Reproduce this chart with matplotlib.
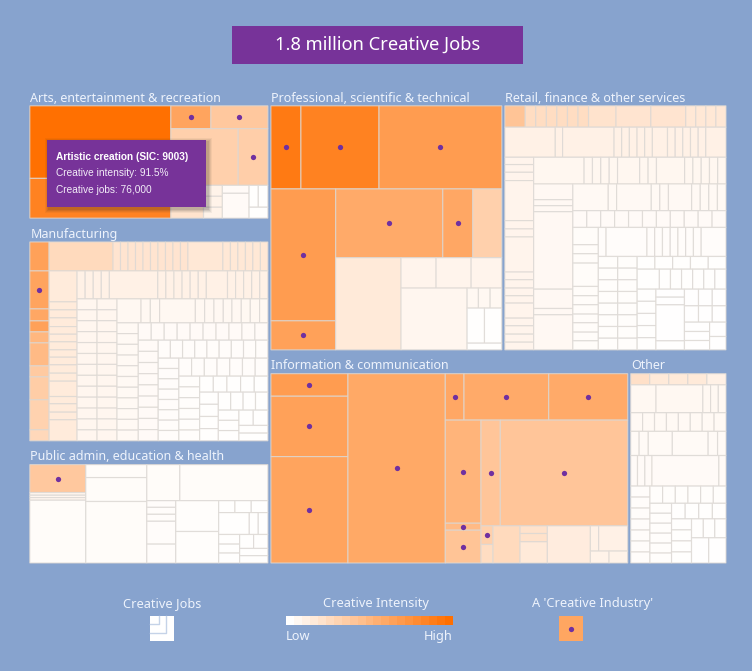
import matplotlib
matplotlib.use("Agg")
import matplotlib.pyplot as plt
from matplotlib.colors import LinearSegmentedColormap
from matplotlib.patches import Rectangle


def row(size, direction, sizes, intensity):
    # a strip of cells that share one shade
    return (size, direction, [(s, intensity) for s in sizes])


# Tree nodes: leaf = (job share, intensity %[, 1 if creative industry])
#             group = (job share, "h" or "v", children)
SECTOR_NAMES = [
    "Arts, entertainment & recreation",
    "Manufacturing",
    "Public admin, education & health",
    "Professional, scientific & technical",
    "Retail, finance & other services",
    "Information & communication",
    "Other",
]
SECTOR_JOBS = [175.5, 287, 157.5, 335, 321, 410, 112]  # thousands

ARTS = (113, "h", [
    (141, "v", [(73, 91.5), (40, 80)]),
    (97, "v", [
        (23, "h", [(40, 58, 1), (57, 35, 1)]),
        (57, "h", [(68, 30), (30, 31, 1)]),
        (33, "h", [
            (33, 18),
            row(19, "v", [11, 11, 11], 8),
            row(27, "v", [8, 25], 3),
            (19, "v", [row(22, "h", [9.3, 9.7], 1), (11, 1)]),
        ]),
    ]),
])

MANUFACTURING = (199, "h", [
    (19.3, "v", [
        (29, 60), (38, 58, 1), (12, 56), (11, 60), (11, 46), (23, 44),
        (11, 34), (23, 32), (30, 29), (11, 25),
    ]),
    (219, "v", [
        (29, "h", [
            (64, 24),
            *[(7.5, 17)] * 10,
            (35, 15),
            *[(7.5, 15)] * 6,
        ]),
        (170, "h", [
            row(28, "v", [31, 8, 8, 8.7, 7.6, 7.7, 8, 7.3, 7.7, 8.3, 8, 15.4, 7.3, 8.3, 7.7, 21], 13),
            (191, "v", [
                row(28, "h", [8, 8, 8, 8, 48, 8, 8, 8, 8, 8, 8, 21, 8, 8, 8, 8, 8], 9),
                (142, "h", [
                    row(20, "v", [11] * 13, 6),
                    row(20, "v", [11] * 13, 6),
                    (151, "v", [
                        row(24, "h", [24, 9.3, 9.3, 35.7, 9.3, 9.3, 9.3, 8.7, 9.3, 9, 9.3, 8.3], 5),
                        (118, "h", [
                            row(21.3, "v", [10.8] * 11, 4),
                            (130, "v", [
                                row(17.3, "h", [13] * 10, 3),
                                (100.7, "h", [
                                    row(20, "v", [11.2] * 9, 3),
                                    (110, "v", [
                                        row(18, "h", [12.2] * 9, 2),
                                        (82.7, "h", [
                                            row(20.7, "v", [10.3] * 8, 2),
                                            (89, "v", [
                                                row(18, "h", [12.7] * 7, 2),
                                                (64.7, "h", [
                                                    row(20.7, "v", [10.8] * 6, 1.5),
                                                    (68, "v", [
                                                        row(16, "h", [13.7] * 5, 1),
                                                        (48.7, "h", [
                                                            row(18.7, "v", [12.2] * 4, 1),
                                                            (49.7, "v", [
                                                                row(18, "h", [12.4] * 4, 1),
                                                                (30.7, "h", [
                                                                    row(20.7, "v", [10.2] * 3, 1),
                                                                    (29, "v", [
                                                                        row(15.3, "h", [14.3, 14.7], 1),
                                                                        (7.7, 1), (7.7, 1),
                                                                    ]),
                                                                ]),
                                                            ]),
                                                        ]),
                                                    ]),
                                                ]),
                                            ]),
                                        ]),
                                    ]),
                                ]),
                            ]),
                        ]),
                    ]),
                ]),
            ]),
        ]),
    ]),
])

PUBLIC_ADMIN = (99, "h", [
    (56, "v", [(28, 35, 1), (2.7, 6), (2.4, 6), (2.6, 6), (63, 2.5)]),
    row(61, "v", [13, 24, 61.7], 2.5),
    (121, "v", [
        row(36.3, "h", [33, 88], 2.5),
        (62.7, "h", [
            row(29, "v", [6.7, 7, 7, 23, 19], 2),
            row(43, "v", [31, 31.7], 1.5),
            (49.3, "v", [
                row(12, "h", [16.3, 16.3, 16.7], 1),
                row(22, "h", [30.7, 9, 9.7], 1),
                (28.7, "h", [
                    row(21, "v", [9.7, 9, 10], 1),
                    (28.3, "v", [
                        row(14, "h", [14, 14.3], 1),
                        (7.3, 1), (7.3, 1),
                    ]),
                ]),
            ]),
        ]),
    ]),
])

PROFESSIONAL = (243.7, "v", [
    (83, "h", [(30, 85, 1), (78, 80, 1), (122.7, 63, 1)]),
    (160.7, "h", [
        (64.7, "v", [(131.7, 63, 1), (29, 60, 1)]),
        (166, "v", [
            (68.7, "h", [(107, 54, 1), (30, 56, 1), (29, 30)]),
            (92, "h", [
                (65.3, 14),
                (100.7, "v", [
                    row(30.3, "h", [35, 35, 30.7], 7),
                    (61.7, "h", [
                        (66, 6),
                        (34.7, "v", [
                            row(20, "h", [11.3, 11.7, 11.7], 5),
                            row(35, "h", [17.3, 17.3], 1),
                            (6.7, 1),
                        ]),
                    ]),
                ]),
            ]),
        ]),
    ]),
])

RETAIL = (243.7, "v", [
    (21.3, "h", [
        (20.3, 38),
        *[(10.5, 22)] * 6,
        (27.3, 18), (34.7, 17), (34.7, 17),
        *[(10, 15)] * 4,
    ]),
    row(30, "h", [50, 7.3, 51, 7.6, 7.6, 7.6, 7.6, 7.6, 15, 7.6, 7.6, 7.6, 7.6, 7.6, 20], 9),
    (192, "h", [
        row(28.7, "v", [7.3, 7.7, 8.3, 40, 8.3, 8, 35, 7.7, 8.3, 7.7, 7.3, 15, 7.7, 8.3, 8, 7.7], 7),
        (191.3, "v", [
            row(26.7, "h", [50, 8.3, 8.3, 8.3, 8.3, 22, 8.3, 8.3, 28, 8.2, 8.2, 8.2, 8.2, 8.2], 5.5),
            (165.7, "h", [
                row(39, "v", [15.7, 6, 6, 77.3, 19.3, 6.3, 35], 4.5),
                (152.3, "v", [
                    row(26.7, "h", [35, 8.3, 34.3, 8.5, 8.5, 23, 8.5, 8.5, 8.5, 8.5], 4),
                    row(16.7, "h", [13.85] * 11, 3),
                    (122.3, "h", [
                        row(25.3, "v", [17.3, 9, 9.3, 23.3, 9.3, 9, 9.3, 8.7, 9.3, 8.7, 9], 2.5),
                        (127, "v", [
                            row(29, "h", [7.7, 40.7, 7.7, 7.7, 7.7, 7.7, 7.7, 7.7, 7.7, 24.7], 1.8),
                            (93.3, "h", [
                                row(19.3, "v", [11.67] * 8, 1.5),
                                row(19.3, "v", [11.67] * 8, 1.5),
                                (88.3, "v", [
                                    row(12.7, "h", [17.7] * 5, 1),
                                    row(20, "h", [22, 11, 11, 11, 11, 11, 11], 1),
                                    (60.7, "h", [
                                        row(18.7, "v", [12.1] * 5, 1),
                                        row(28.3, "v", [8, 7.7, 36, 9], 0.5),
                                        (41.3, "v", [
                                            (33, "v", [
                                                row(16.7, "h", [14, 13.7, 13.7], 0.5),
                                                row(16.3, "h", [14, 13.7, 13.7], 0.5),
                                            ]),
                                            (27.7, "h", [
                                                row(25, "v", [9.3, 9, 9.3], 0.5),
                                                row(16.3, "v", [14.3, 13.3], 0.5),
                                            ]),
                                        ]),
                                    ]),
                                ]),
                            ]),
                        ]),
                    ]),
                ]),
            ]),
        ]),
    ]),
])

INFORMATION = (190.3, "h", [
    (77, "v", [(22.7, 63, 1), (60.7, 60, 1), (107, 58, 1)]),
    (97.3, 55, 1),
    (182.3, "v", [
        (46.7, "h", [(18.7, 56, 1), (84.7, 54, 1), (79, 54, 1)]),
        (143.7, "h", [
            (35.7, "v", [(103.7, 48, 1), (7, 44, 1), (33, 38, 1)]),
            (146.7, "v", [
                (106.3, "h", [(19.3, 37, 1), (127.3, 37, 1)]),
                (37.3, "h", [
                    (12, "v", [(18.7, 30, 1), (18.7, 22)]),
                    (27, 24),
                    (27.3, "v", [(7.7, 19), (8.3, 19), (21.3, 14)]),
                    (43, 12),
                    (37.3, "v", [
                        row(25.3, "h", [8.3, 29], 9),
                        row(12, "h", [18.7, 18.7], 8),
                    ]),
                ]),
            ]),
        ]),
    ]),
])

OTHER = (190.3, "v", [
    (11.3, "h", [(19, 20), (19, 14), (19, 14), (19, 14), (19, 9)]),
    row(28, "h", [25, 46.3, 7.6, 7.6, 7.6], 5),
    row(18.7, "h", [11.75] * 8, 4),
    row(24.3, "h", [8.3, 9, 23.7, 35.3, 9.3, 8.3], 3.5),
    row(30.7, "h", [6.7, 7.3, 7, 66, 7], 3),
    (77.3, "h", [
        row(19, "v", [11] * 7, 2),
        (75, "v", [
            row(17.3, "h", [12.5] * 6, 1.5),
            (60, "h", [
                row(21.3, "v", [10] * 6, 1.5),
                (53.7, "v", [
                    row(15.7, "h", [13.5] * 4, 1),
                    (44.3, "h", [
                        row(19.7, "v", [11] * 4, 1),
                        (34, "v", [
                            row(19, "h", [11.6, 11.3, 11], 1),
                            row(25.3, "h", [17, 17], 0.5),
                        ]),
                    ]),
                ]),
            ]),
        ]),
    ]),
])

SECTOR_TREES = [ARTS, MANUFACTURING, PUBLIC_ADMIN, PROFESSIONAL, RETAIL, INFORMATION, OTHER]

TITLE = "1.8 million Creative Jobs"
TOOLTIP_LINES = ["Artistic creation (SIC: 9003)", "Creative intensity: 91.5%", "Creative jobs: 76,000"]
LEGEND_TITLES = ["Creative Jobs", "Creative Intensity", "A 'Creative Industry'"]
LEGEND_STEPS = [0, 5, 9, 14, 18, 23, 28, 32, 37, 41, 46, 51, 55, 60, 64, 69, 74, 78, 83, 87, 92]

BACKGROUND = "#87a3ce"
PURPLE = "#773399"
DOT = "#7030a0"
TEXT = "#eef3fc"
EDGE = (0.87, 0.85, 0.83, 0.75)
FONT = "Noto Sans"

cmap = LinearSegmentedColormap.from_list("intensity", ["#ffffff", "#ff6f00"])


def shade(intensity):
    return cmap(intensity / 92)


def draw_node(ax, node, x0, y0, x1, y1):
    if not isinstance(node[1], str):
        ax.add_patch(Rectangle((x0, y0), x1 - x0, y1 - y0, facecolor=shade(node[1]),
                               edgecolor=EDGE, linewidth=0.85, snap=False, zorder=2))
        if len(node) > 2:
            ax.plot((x0 + x1) / 2, (y0 + y1) / 2, "o", color=DOT, markersize=3.8,
                    markeredgewidth=0, zorder=3)
        return
    total = sum(child[0] for child in node[2])
    pos = x0 if node[1] == "h" else y0
    for child in node[2]:
        if node[1] == "h":
            step = (x1 - x0) * child[0] / total
            draw_node(ax, child, pos, y0, pos + step, y1)
        else:
            step = (y1 - y0) * child[0] / total
            draw_node(ax, child, x0, pos, x1, pos + step)
        pos += step


def sector_frames(x0, y0, x1, y1):
    # left column of three, right block of two rows with two sectors each
    jobs = SECTOR_JOBS
    total = sum(jobs)
    split_x = x0 + (x1 - x0) * sum(jobs[:3]) / total
    frames = []
    y = y0
    for value in jobs[:3]:
        h = (y1 - y0) * value / sum(jobs[:3])
        frames.append((x0, y, split_x, y + h))
        y += h
    right = sum(jobs[3:])
    split_y = y0 + (y1 - y0) * (jobs[3] + jobs[4]) / right
    mid_top = split_x + (x1 - split_x) * jobs[3] / (jobs[3] + jobs[4])
    mid_bottom = split_x + (x1 - split_x) * jobs[5] / (jobs[5] + jobs[6])
    frames.append((split_x, y0, mid_top, split_y))
    frames.append((mid_top, y0, x1, split_y))
    frames.append((split_x, split_y, mid_bottom, y1))
    frames.append((mid_bottom, split_y, x1, y1))
    return frames


fig = plt.figure(figsize=(7.52, 6.71), dpi=100, facecolor=BACKGROUND)
ax = fig.add_axes([0, 0, 1, 1])
ax.set_xlim(0, 752)
ax.set_ylim(671, 0)
ax.axis("off")

# title banner
ax.add_patch(Rectangle((232, 26), 291, 37.5, facecolor=PURPLE, edgecolor="none"))
ax.text(378, 45, TITLE, color="white", ha="center", va="center", fontsize=13.2, family=FONT)

frames = sector_frames(29.8, 82, 729, 563)
for name, tree, (x0, y0, x1, y1) in zip(SECTOR_NAMES, SECTOR_TREES, frames):
    top = y0 + 23.8
    draw_node(ax, tree, x0, top, x1 - 3, y1)
    ax.text(x0 + 0.5, top - 4.3, name, color=TEXT, ha="left", va="baseline",
            fontsize=9.0, family=FONT)

# tooltip for the hovered cell, with a soft shadow
for grow, alpha in [(4, 0.05), (3, 0.07), (2, 0.09), (1, 0.1)]:
    ax.add_patch(Rectangle((47 + 2 - grow, 140 + 2 - grow), 158.5 + 2 * grow, 67 + 2 * grow,
                           facecolor="#222222", edgecolor="none", alpha=alpha, zorder=5))
ax.add_patch(Rectangle((47, 140), 158.5, 67, facecolor=PURPLE, edgecolor="none", zorder=6))
ax.text(56, 157, TOOLTIP_LINES[0], color="white", fontsize=7.3, fontweight="bold",
        family="Liberation Sans", va="center", zorder=7)
ax.text(56, 173.5, TOOLTIP_LINES[1], color="#f2ecf7", fontsize=7.3,
        family="Liberation Sans", va="center", zorder=7)
ax.text(56, 190, TOOLTIP_LINES[2], color="#f2ecf7", fontsize=7.3,
        family="Liberation Sans", va="center", zorder=7)

# legend
for x, label in zip([162, 375.5, 593], LEGEND_TITLES):
    ax.text(x, 603.5, label, color=TEXT, ha="center", va="center", fontsize=9.2, family=FONT)

ax.add_patch(Rectangle((150, 616), 24, 24.5, facecolor="white", edgecolor="none"))
ax.plot([150, 166, 166], [632.8, 632.8, 616], color="#c5d3e8", linewidth=1.0)
ax.plot([150, 159, 159], [624, 624, 616], color="#c5d3e8", linewidth=1.0)

step_width = 167 / len(LEGEND_STEPS)
for i, value in enumerate(LEGEND_STEPS):
    ax.add_patch(Rectangle((286 + i * step_width, 616), step_width + 0.3, 9,
                           facecolor=shade(value), edgecolor="none"))
ax.text(286, 636.5, "Low", color=TEXT, ha="left", va="center", fontsize=9.2, family=FONT)
ax.text(453, 636.5, "High", color=TEXT, ha="right", va="center", fontsize=9.2, family=FONT)

ax.add_patch(Rectangle((558.7, 616), 24.6, 25, facecolor=shade(57), edgecolor="none"))
ax.plot(571, 628.5, "o", color=DOT, markersize=3.8, markeredgewidth=0)

fig.savefig("out.png", dpi=100, facecolor=BACKGROUND)
